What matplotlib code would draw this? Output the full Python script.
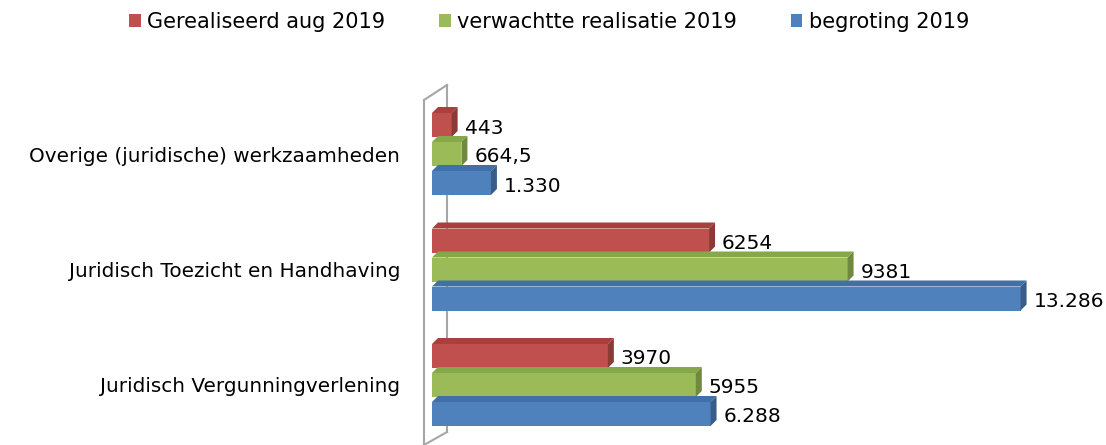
import matplotlib
matplotlib.use("Agg")
import matplotlib.pyplot as plt
from matplotlib.patches import Polygon, Patch

categories = ["Overige (juridische) werkzaamheden",
              "Juridisch Toezicht en Handhaving",
              "Juridisch Vergunningverlening"]
gerealiseerd = [443, 6254, 3970]
verwacht = [664.5, 9381, 5955]
begroting = [1330, 13286, 6288]
series_names = ["Gerealiseerd aug 2019", "verwachtte realisatie 2019", "begroting 2019"]

front = ["#C0504D", "#9BBB59", "#4F81BD"]
top = ["#A9403D", "#86A74A", "#4170A8"]
side = ["#8C3A37", "#6F8A3E", "#385D8A"]


def fmt_plain(v):
    s = ("%g" % v).replace(".", ",")
    return s


def fmt_dots(v):
    return "{:,.0f}".format(v).replace(",", ".")


W, H = 1106, 445
fig = plt.figure(figsize=(W / 100, H / 100), dpi=100)
px = 0.0443          # pixels per unit on x
py = 115.5           # pixels per group on y
x0, x1 = 432, 1100
ytop, ybot = 85, 445
ax = fig.add_axes([x0 / W, 1 - ybot / H, (x1 - x0) / W, (ybot - ytop) / H])
ax.set_xlim(0, (x1 - x0) / px)
ax.set_ylim((ybot - 154) / py, (ytop - 154) / py)
for s in ax.spines.values():
    s.set_visible(False)
ax.set_xticks([])

# depth of the fake 3d effect
dx = 6 / px
dy = 6 / py
bh = 24 / py
offs = [-29 / py, 0, 29 / py]

# wall pane left of the bars
wc = "#A6A6A6"
ax.plot([-8 / px, -8 / px], [(100 - 154) / py, (445 - 154) / py],
        color=wc, lw=1.5, clip_on=False, zorder=5)
ax.plot([-8 / px, 15 / px], [(100 - 154) / py, (85 - 154) / py], color=wc, lw=1.5, clip_on=False, zorder=1)
ax.plot([15 / px, 15 / px], [(85 - 154) / py, (432 - 154) / py], color=wc, lw=1.5, clip_on=False, zorder=1)
ax.plot([15 / px, -8 / px], [(432 - 154) / py, (445 - 154) / py], color=wc, lw=1.5, clip_on=False, zorder=1)

all_series = [gerealiseerd, verwacht, begroting]
fmts = [fmt_plain, fmt_plain, fmt_dots]
for k, vals in enumerate(all_series):
    for g, v in enumerate(vals):
        yc = g + offs[k]
        yt = yc - bh / 2
        yb = yc + bh / 2
        ax.barh(yc, v, height=bh, color=front[k], linewidth=0, zorder=3 + k * 0.1)
        ax.add_patch(Polygon([(0, yt), (dx, yt - dy), (v + dx, yt - dy), (v, yt)],
                             closed=True, facecolor=top[k], edgecolor="none", zorder=3 + k * 0.1))
        ax.add_patch(Polygon([(v, yt), (v + dx, yt - dy), (v + dx, yb - dy), (v, yb)],
                             closed=True, facecolor=side[k], edgecolor="none", zorder=3 + k * 0.1))
        ax.text(v + dx + 7 / px, yc + 3 / py, fmts[k](v), va="center", ha="left",
                fontsize=14.5, color="#000000", zorder=6)

ax.set_yticks(range(len(categories)))
ax.set_yticklabels(categories, fontsize=14.4)
ax.tick_params(axis="y", length=0, pad=23)

handles = [Patch(facecolor=front[k], edgecolor="none") for k in range(3)]
fig.legend(handles, series_names, loc="center", bbox_to_anchor=(549 / W, 1 - 22 / H),
           ncol=3, frameon=False, fontsize=15, handlelength=0.55, handleheight=0.55,
           handletextpad=0.3, columnspacing=2.6)

fig.savefig("out.png", dpi=100)
